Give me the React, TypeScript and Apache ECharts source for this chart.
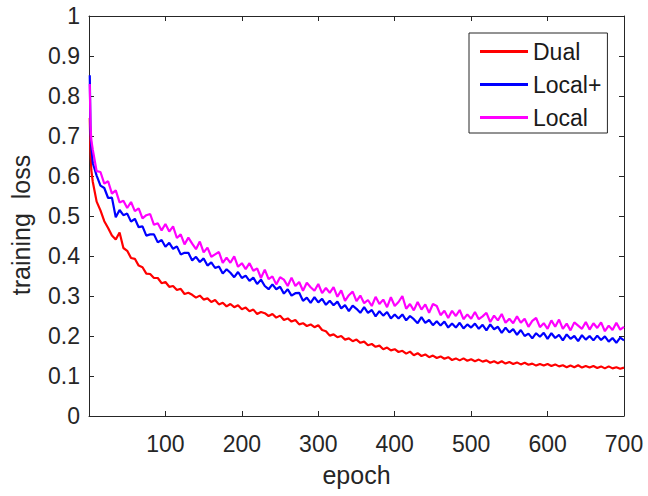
import React, { useEffect, useRef } from "react";
import * as echarts from "echarts";

const EPOCHS = [
  1, 2, 3,
  5, 10, 15, 20, 25, 30, 35, 40, 45, 50,
  55, 60, 65, 70, 75, 80, 85, 90, 95, 100,
  105, 110, 115, 120, 125, 130, 135, 140, 145, 150,
  155, 160, 165, 170, 175, 180, 185, 190, 195, 200,
  205, 210, 215, 220, 225, 230, 235, 240, 245, 250,
  255, 260, 265, 270, 275, 280, 285, 290, 295, 300,
  305, 310, 315, 320, 325, 330, 335, 340, 345, 350,
  355, 360, 365, 370, 375, 380, 385, 390, 395, 400,
  405, 410, 415, 420, 425, 430, 435, 440, 445, 450,
  455, 460, 465, 470, 475, 480, 485, 490, 495, 500,
  505, 510, 515, 520, 525, 530, 535, 540, 545, 550,
  555, 560, 565, 570, 575, 580, 585, 590, 595, 600,
  605, 610, 615, 620, 625, 630, 635, 640, 645, 650,
  655, 660, 665, 670, 675, 680, 685, 690, 695, 700,
];

const DUAL = [
  0.745, 0.66, 0.615,
  0.585, 0.536, 0.514, 0.487, 0.47, 0.451, 0.441, 0.459, 0.42, 0.413,
  0.395, 0.393, 0.376, 0.372, 0.356, 0.355, 0.345, 0.345, 0.332, 0.335,
  0.323, 0.325, 0.315, 0.318, 0.305, 0.308, 0.303, 0.296, 0.301, 0.291,
  0.294, 0.285, 0.29, 0.279, 0.283, 0.274, 0.28, 0.272, 0.277, 0.267,
  0.271, 0.262, 0.266, 0.255, 0.26, 0.257, 0.25, 0.255, 0.246, 0.251,
  0.24, 0.244, 0.236, 0.24, 0.229, 0.232, 0.225, 0.229, 0.222, 0.227,
  0.215, 0.212, 0.201, 0.204, 0.197, 0.2, 0.191, 0.194, 0.187, 0.191,
  0.183, 0.186, 0.177, 0.18, 0.173, 0.176, 0.167, 0.171, 0.164, 0.167,
  0.16, 0.163, 0.156, 0.161, 0.152, 0.157, 0.15, 0.154, 0.147, 0.151,
  0.145, 0.149, 0.143, 0.147, 0.14, 0.144, 0.139, 0.144, 0.138, 0.142,
  0.137, 0.141, 0.136, 0.139, 0.133, 0.137, 0.132, 0.137, 0.131, 0.135,
  0.13, 0.134, 0.129, 0.133, 0.128, 0.131, 0.126, 0.13, 0.126, 0.13,
  0.125, 0.129, 0.124, 0.127, 0.122, 0.126, 0.122, 0.127, 0.121, 0.125,
  0.121, 0.125, 0.12, 0.124, 0.119, 0.124, 0.119, 0.122, 0.118, 0.121,
];

const LOCAL_PLUS = [
  0.852, 0.71, 0.672,
  0.632, 0.601, 0.576, 0.57, 0.545, 0.546, 0.497, 0.515, 0.502, 0.506,
  0.486, 0.493, 0.472, 0.474, 0.451, 0.454, 0.454, 0.434, 0.44, 0.423,
  0.433, 0.418, 0.424, 0.404, 0.408, 0.408, 0.389, 0.398, 0.385, 0.394,
  0.376, 0.384, 0.37, 0.374, 0.356, 0.367, 0.358, 0.347, 0.36, 0.345,
  0.351, 0.338, 0.346, 0.33, 0.341, 0.325, 0.317, 0.329, 0.317, 0.323,
  0.306, 0.317, 0.301, 0.307, 0.308, 0.288, 0.296, 0.283, 0.297, 0.284,
  0.293, 0.278, 0.288, 0.277, 0.286, 0.269, 0.277, 0.262, 0.276, 0.268,
  0.258, 0.272, 0.258, 0.265, 0.249, 0.262, 0.251, 0.26, 0.244, 0.254,
  0.244, 0.254, 0.239, 0.25, 0.242, 0.232, 0.247, 0.233, 0.24, 0.227,
  0.237, 0.226, 0.236, 0.221, 0.231, 0.221, 0.233, 0.219, 0.229, 0.221,
  0.231, 0.218, 0.228, 0.214, 0.229, 0.217, 0.223, 0.208, 0.221, 0.209,
  0.217, 0.203, 0.215, 0.2, 0.206, 0.194, 0.207, 0.198, 0.208, 0.193,
  0.207, 0.195, 0.203, 0.189, 0.204, 0.193, 0.2, 0.187, 0.202, 0.191,
  0.2, 0.189, 0.201, 0.19, 0.199, 0.186, 0.195, 0.183, 0.196, 0.189,
];

const LOCAL = [
  0.83, 0.725, 0.69,
  0.665, 0.612, 0.61, 0.581, 0.587, 0.556, 0.564, 0.534, 0.538, 0.52,
  0.535, 0.512, 0.519, 0.494, 0.502, 0.505, 0.478, 0.482, 0.464, 0.48,
  0.461, 0.474, 0.445, 0.454, 0.429, 0.446, 0.431, 0.417, 0.436, 0.409,
  0.421, 0.398, 0.404, 0.41, 0.383, 0.396, 0.383, 0.399, 0.373, 0.382,
  0.367, 0.382, 0.363, 0.369, 0.345, 0.366, 0.342, 0.349, 0.329, 0.347,
  0.341, 0.325, 0.346, 0.325, 0.335, 0.313, 0.333, 0.322, 0.313, 0.33,
  0.307, 0.32, 0.308, 0.322, 0.298, 0.314, 0.288, 0.302, 0.311, 0.287,
  0.301, 0.282, 0.29, 0.275, 0.298, 0.28, 0.291, 0.272, 0.297, 0.275,
  0.285, 0.3, 0.268, 0.28, 0.264, 0.285, 0.266, 0.279, 0.258, 0.28,
  0.275, 0.252, 0.263, 0.245, 0.263, 0.25, 0.265, 0.242, 0.254, 0.243,
  0.26, 0.242, 0.249, 0.258, 0.235, 0.251, 0.239, 0.255, 0.233, 0.243,
  0.232, 0.249, 0.233, 0.243, 0.223, 0.238, 0.245, 0.222, 0.232, 0.218,
  0.239, 0.223, 0.241, 0.218, 0.231, 0.214, 0.234, 0.226, 0.218, 0.235,
  0.216, 0.232, 0.22, 0.234, 0.212, 0.226, 0.215, 0.233, 0.216, 0.223,
];

const SERIES_NAMES = ["Dual", "Local+", "Local"];
const SERIES_VALUES = [DUAL, LOCAL_PLUS, LOCAL];
const SERIES_COLORS = ["#ff0000", "#0000ff", "#ff00ff"];

const X_MIN = 0;
const X_MAX = 700;
const X_STEP = 100;
const Y_MIN = 0;
const Y_MAX = 1;
const Y_STEP = 0.1;

export default function App() {
  const ref = useRef<HTMLDivElement>(null);

  useEffect(() => {
    if (!ref.current) return;
    const chart = echarts.init(ref.current, null, { renderer: "svg" });
    const FONT = "'Liberation Sans', Arial, sans-serif";
    const AX = "#262626";

    const lineAxisCommon = {
      axisLine: { show: true, onZero: false, lineStyle: { color: AX, width: 1 } },
      axisTick: { show: true, inside: true, length: 5, lineStyle: { color: AX, width: 1 } },
      splitLine: { show: false },
    };

    chart.setOption({
      animation: false,
      backgroundColor: "#ffffff",
      textStyle: { fontFamily: FONT },
      grid: { left: 89, right: 24, top: 16, bottom: 80 },
      legend: {
        data: SERIES_NAMES,
        orient: "vertical",
        left: 469,
        top: 33,
        padding: [7, 6, 4, 11],
        itemWidth: 48,
        itemHeight: 3,
        itemGap: 10,
        itemTextGap: 6,
        icon: "rect",
        borderColor: AX,
        borderWidth: 1,
        backgroundColor: "#ffffff",
        textStyle: { fontSize: 23, color: "#1a1a1a", fontFamily: FONT, lineHeight: 23 },
      },
      xAxis: [
        {
          type: "value",
          position: "bottom",
          min: X_MIN,
          max: X_MAX,
          interval: X_STEP,
          ...lineAxisCommon,
          axisLabel: {
            fontSize: 23,
            color: AX,
            margin: 16,
            fontFamily: FONT,
            formatter: (v: number) => (v === 0 ? "" : String(v)),
          },
          name: "epoch",
          nameLocation: "middle",
          nameGap: 46,
          nameTextStyle: { fontSize: 25, color: AX, fontFamily: FONT },
        },
        {
          type: "value",
          position: "top",
          min: X_MIN,
          max: X_MAX,
          interval: X_STEP,
          ...lineAxisCommon,
          axisLabel: { show: false },
        },
      ],
      yAxis: [
        {
          type: "value",
          position: "left",
          min: Y_MIN,
          max: Y_MAX,
          interval: Y_STEP,
          ...lineAxisCommon,
          axisLabel: {
            fontSize: 23,
            color: AX,
            margin: 9,
            fontFamily: FONT,
            formatter: (v: number) => String(parseFloat(v.toFixed(1))),
          },
          name: "training  loss",
          nameLocation: "middle",
          nameRotate: 90,
          nameGap: 56,
          nameTextStyle: { fontSize: 25, color: AX, fontFamily: FONT, padding: [0, 18, 0, 0] },
        },
        {
          type: "value",
          position: "right",
          min: Y_MIN,
          max: Y_MAX,
          interval: Y_STEP,
          ...lineAxisCommon,
          axisLabel: { show: false },
        },
      ],
      series: SERIES_NAMES.map((name, k) => ({
        name,
        type: "line",
        xAxisIndex: 0,
        yAxisIndex: 0,
        showSymbol: false,
        symbol: "none",
        clip: true,
        color: SERIES_COLORS[k],
        lineStyle: { color: SERIES_COLORS[k], width: 2.2 },
        data: EPOCHS.map((x, i) => [x, SERIES_VALUES[k][i]]),
      })),
    });

    return () => chart.dispose();
  }, []);

  return (
    <div
      ref={ref}
      style={{ position: "fixed", left: 0, top: 0, width: 648, height: 496, background: "#fff" }}
    />
  );
}
